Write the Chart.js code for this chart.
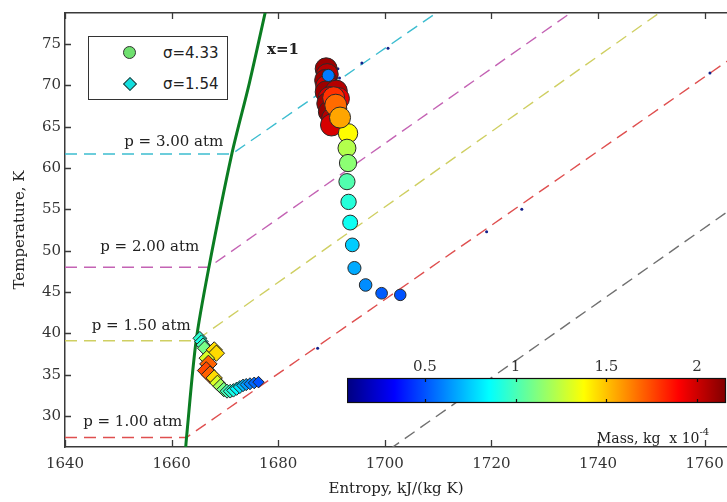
<!DOCTYPE html>
<html>
<head>
<meta charset="utf-8">
<title>Entropy vs temperature</title>
<script src="https://cdn.jsdelivr.net/npm/chart.js@4.4.1/dist/chart.umd.min.js"></script>
<style>
  body { margin: 0; background: #fff; }
  #wrap { position: relative; width: 727px; height: 502px; overflow: hidden; background: #fff; }
  #mainChart { position: absolute; left: 0; top: 0; }
  #massBar { position: absolute; left: 347px; top: 355px; }
  #legend {
    position: absolute; left: 88px; top: 36px; width: 140px; height: 64px;
    box-sizing: border-box; border: 1.5px solid #333; background: #fff;
    font: 15px "DejaVu Sans", sans-serif; color: #222;
  }
  #legend .mark { position: absolute; box-sizing: border-box; border: 1px solid #333; }
  #legend .dot { left: 34px; top: 9px; width: 13px; height: 13px; border-radius: 50%; background: #6fe06f; }
  #legend .diamond { left: 36px; top: 42px; width: 10px; height: 10px; transform: rotate(45deg); background: #10dede; }
  #legend .txt { position: absolute; left: 74px; line-height: 18px; }
  #massLabel {
    position: absolute; left: 597px; top: 425px; white-space: nowrap;
    font: 14px "DejaVu Serif", serif; color: #222; line-height: 18px;
  }
  #massLabel sup { font-size: 10px; position: relative; top: -2px; }
</style>
</head>
<body>
<div id="wrap">
  <canvas id="mainChart" width="727" height="502"></canvas>
  <div id="legend">
    <span class="mark dot"></span><span class="txt" style="top:7px">σ=4.33</span>
    <span class="mark diamond"></span><span class="txt" style="top:38px">σ=1.54</span>
  </div>
  <canvas id="massBar" width="380" height="49"></canvas>
  <div id="massLabel">Mass, kg &nbsp;x 10<sup>-4</sup></div>
</div>
<script>
// axis ranges
const X_RANGE = [1640, 1764.2];
const Y_RANGE = [26.25, 78.75];
const MASS_RANGE = [0.07, 2.16];
const X_STEP = 20;
const Y_STEP = 5;
const MASS_STEP = 0.5;

// saturation line x=1
const satEntropy = [1662.5, 1662.8, 1664.6, 1667.0, 1671.3, 1674.6, 1677.8];
const satTemp = [25.0, 27.4, 39.1, 48.0, 61.7, 70.3, 79.5];

// isobars: flat at the boiling temperature, then the superheated branch
const isobarNames = ["p = 3.00 atm", "p = 2.00 atm", "p = 1.50 atm", "p = 1.00 atm"];
const isobarTemp = [61.7, 48.0, 39.1, 27.4];
const isobarSatEntropy = [1671.3, 1667.0, 1664.5, 1662.8];
const isobarEndEntropy = [1712, 1770, 1770, 1770];
const isobarEndTemp = [79.8, 94.7, 87.2, 75.5];

// the lowest isobar, only its sloped part is in view
const lowIsobarEntropy = [1695, 1770];
const lowIsobarTemp = [23.3, 57.3];

// sigma = 4.33 drops (circles)
const bigEntropy = [
  1689.0, 1689.2, 1688.9, 1689.1, 1689.0, 1690.9, 1689.6, 1691.3, 1689.3, 1690.8, 1689.6, 1690.2, 1691.2, 1690.0,
  1690.4, 1690.8, 1693.1, 1691.6,
  1692.9, 1693.1, 1692.9, 1693.2, 1693.5, 1693.9, 1694.3, 1696.4, 1699.4, 1702.9,
  1689.4
];
const bigTemp = [
  72.0, 71.3, 70.6, 69.9, 69.2, 69.3, 68.5, 68.4, 67.8, 67.2, 66.8, 66.0, 65.5, 65.2,
  68.5, 67.6, 64.2, 66.1,
  62.4, 60.6, 58.35, 55.9, 53.4, 50.7, 47.9, 45.85, 44.85, 44.65,
  71.2
];
const bigMass = [
  2.1, 2.05, 2.1, 2.0, 2.1, 2.05, 2.0, 1.95, 2.1, 2.0, 2.12, 2.05, 2.1, 1.98,
  1.8, 1.68, 1.38, 1.56,
  1.22, 1.14, 1.02, 0.93, 0.88, 0.75, 0.68, 0.62, 0.52, 0.5,
  0.58
];

// sigma = 1.54 drops (diamonds)
const smallEntropy = [
  1665.3, 1665.6, 1665.9, 1666.2, 1668.0, 1668.4, 1666.6, 1666.9, 1666.5, 1667.2, 1668.0, 1668.6,
  1669.2, 1669.8, 1670.4, 1671.0, 1671.6, 1672.2, 1672.8, 1673.4, 1674.0, 1674.7, 1675.5, 1676.3
];
const smallTemp = [
  39.4, 39.0, 38.6, 38.2, 38.0, 37.6, 37.0, 36.3, 35.5, 35.0, 34.6, 34.0,
  33.6, 33.2, 33.0, 33.0, 33.1, 33.3, 33.5, 33.7, 33.8, 33.9, 34.0, 34.1
];
const smallMass = [
  0.95, 0.9, 1.0, 1.1, 1.45, 1.45, 1.3, 1.7, 1.75, 1.7, 1.45, 1.3,
  1.2, 1.1, 1.0, 0.95, 0.9, 0.85, 0.8, 0.72, 0.65, 0.6, 0.55, 0.5
];

// stray tiny trace points
const speckEntropy = [1695.7, 1700.6, 1687.4, 1719.1, 1725.7, 1761.0, 1691.2, 1691.5];
const speckTemp = [72.7, 74.5, 38.2, 52.3, 55.0, 71.5, 72.0, 70.9];

const ISOBAR_COLORS = ["#3dbdd0", "#c463b4", "#cfcf62", "#df4f4f"];
const AXIS_COLOR = "#3a3a3a";
const SERIF = "'DejaVu Serif', serif";

const textLabels = [
  { text: isobarNames[0], x: 1660.4, y: 63.15 },
  { text: isobarNames[1], x: 1655.9, y: 50.45 },
  { text: isobarNames[2], x: 1654.3, y: 40.9 },
  { text: isobarNames[3], x: 1652.7, y: 29.3 },
  { text: "x=1", x: 1680.9, y: 74.3, bold: true }
];

function jet(t) {
  const clamp = v => Math.max(0, Math.min(1, v));
  const r = clamp(1.5 - Math.abs(4 * t - 3));
  const g = clamp(1.5 - Math.abs(4 * t - 2));
  const b = clamp(1.5 - Math.abs(4 * t - 1));
  return `rgb(${Math.round(r * 255)}, ${Math.round(g * 255)}, ${Math.round(b * 255)})`;
}

function massColor(mass) {
  return jet((mass - MASS_RANGE[0]) / (MASS_RANGE[1] - MASS_RANGE[0]));
}

function toPoints(xs, ys) {
  return xs.map((x, i) => ({ x, y: ys[i] }));
}

// keep the plot area flush with the canvas edges
function noEdgePadding(scale) {
  scale.paddingLeft = 0;
  scale.paddingRight = 0;
}

function isobarDataset(index) {
  return {
    label: isobarNames[index],
    data: [
      { x: X_RANGE[0], y: isobarTemp[index] },
      { x: isobarSatEntropy[index], y: isobarTemp[index] },
      { x: isobarEndEntropy[index], y: isobarEndTemp[index] }
    ],
    showLine: true,
    borderColor: ISOBAR_COLORS[index],
    borderWidth: 1.4,
    borderDash: [12, 7],
    pointRadius: 0,
    order: 5
  };
}

const innerTicks = {
  id: "innerTicks",
  afterDraw(chart) {
    const { ctx, chartArea: area, scales: { x, y } } = chart;
    ctx.save();
    ctx.strokeStyle = AXIS_COLOR;
    ctx.lineWidth = 1.3;
    ctx.beginPath();
    x.ticks.forEach(tick => {
      const px = Math.round(x.getPixelForValue(tick.value)) + 0.5;
      ctx.moveTo(px, area.bottom);
      ctx.lineTo(px, area.bottom - 7);
      ctx.moveTo(px, area.top);
      ctx.lineTo(px, area.top + 6);
    });
    y.ticks.forEach(tick => {
      const py = Math.round(y.getPixelForValue(tick.value)) + 0.5;
      ctx.moveTo(area.left, py);
      ctx.lineTo(area.left + 6, py);
    });
    ctx.stroke();
    ctx.restore();
  }
};

const chartText = {
  id: "chartText",
  afterDatasetsDraw(chart) {
    const { ctx, scales: { x, y } } = chart;
    ctx.save();
    ctx.fillStyle = "#222";
    ctx.textAlign = "center";
    ctx.textBaseline = "middle";
    textLabels.forEach(label => {
      ctx.font = `${label.bold ? "bold " : ""}15px ${SERIF}`;
      ctx.fillText(label.text, x.getPixelForValue(label.x), y.getPixelForValue(label.y));
    });
    ctx.restore();
  }
};

new Chart(document.getElementById("mainChart"), {
  type: "scatter",
  data: {
    datasets: [
      {
        label: "σ=4.33",
        data: toPoints(bigEntropy, bigTemp),
        pointStyle: "circle",
        pointRadius: bigMass.map(m => Math.min(11, 3.5 + 4.5 * m)),
        pointBackgroundColor: bigMass.map(massColor),
        pointBorderColor: "#2a2a2a",
        pointBorderWidth: 1,
        order: 1
      },
      {
        label: "σ=1.54",
        data: toPoints(smallEntropy, smallTemp),
        pointStyle: "rectRot",
        pointRadius: smallMass.map(m => 4.5 + 2.5 * m),
        pointBackgroundColor: smallMass.map(massColor),
        pointBorderColor: "#222",
        pointBorderWidth: 1,
        order: 2
      },
      {
        label: "traces",
        data: toPoints(speckEntropy, speckTemp),
        pointRadius: 1.5,
        pointBackgroundColor: "#12208a",
        pointBorderWidth: 0,
        order: 3
      },
      {
        label: "x=1",
        data: toPoints(satEntropy, satTemp),
        showLine: true,
        borderColor: "#0b7d22",
        borderWidth: 3,
        pointRadius: 0,
        tension: 0.3,
        order: 4
      },
      isobarDataset(0),
      isobarDataset(1),
      isobarDataset(2),
      isobarDataset(3),
      {
        label: "low isobar",
        data: toPoints(lowIsobarEntropy, lowIsobarTemp),
        showLine: true,
        borderColor: "#707070",
        borderWidth: 1.4,
        borderDash: [12, 7],
        pointRadius: 0,
        order: 6
      }
    ]
  },
  options: {
    responsive: false,
    animation: false,
    layout: { autoPadding: false, padding: { top: 13, right: 0, left: 0, bottom: 0 } },
    plugins: {
      legend: { display: false },
      tooltip: { enabled: false }
    },
    scales: {
      x: {
        type: "linear",
        position: "bottom",
        min: X_RANGE[0],
        max: X_RANGE[1],
        ticks: {
          stepSize: X_STEP,
          includeBounds: false,
          maxRotation: 0,
          padding: 8,
          color: "#333",
          font: { family: SERIF, size: 15 },
          callback: value => String(value)
        },
        grid: { display: true, drawOnChartArea: false, drawTicks: false },
        border: { display: true, color: AXIS_COLOR, width: 1.5 },
        title: {
          display: true,
          text: "Entropy, kJ/(kg K)",
          color: "#222",
          font: { family: SERIF, size: 15 },
          padding: { top: 0, bottom: 4 }
        },
        afterFit: scale => { scale.height = 55; noEdgePadding(scale); }
      },
      x2: {
        type: "linear",
        axis: "x",
        position: "top",
        min: X_RANGE[0],
        max: X_RANGE[1],
        ticks: { display: false },
        grid: { display: true, drawOnChartArea: false, drawTicks: false },
        border: { display: true, color: AXIS_COLOR, width: 1.5 },
        afterFit: scale => { scale.height = 0; noEdgePadding(scale); }
      },
      y: {
        type: "linear",
        min: Y_RANGE[0],
        max: Y_RANGE[1],
        ticks: {
          stepSize: Y_STEP,
          includeBounds: false,
          padding: 4,
          color: "#333",
          font: { family: SERIF, size: 15 },
          callback: value => String(value)
        },
        grid: { display: true, drawOnChartArea: false, drawTicks: false },
        border: { display: true, color: AXIS_COLOR, width: 1.5 },
        title: {
          display: true,
          text: "Temperature, K",
          color: "#222",
          font: { family: SERIF, size: 15 },
          padding: { top: 11, bottom: 0 }
        },
        afterFit: scale => { scale.width = 65; }
      }
    }
  },
  plugins: [innerTicks, chartText]
});

const massBarPaint = {
  id: "massBarPaint",
  beforeDraw(chart) {
    const { ctx, chartArea: area, scales: { x } } = chart;
    const gradient = ctx.createLinearGradient(area.left, 0, area.right, 0);
    const stops = 40;
    for (let i = 0; i <= stops; i++) {
      gradient.addColorStop(i / stops, massColor(x.getValueForPixel(area.left + area.width * i / stops)));
    }
    ctx.save();
    ctx.fillStyle = gradient;
    ctx.fillRect(area.left, area.top, area.width, area.height);
    ctx.strokeStyle = "#111";
    ctx.lineWidth = 1.2;
    ctx.strokeRect(area.left + 0.5, area.top + 0.5, area.width - 1, area.height - 1);
    ctx.beginPath();
    x.ticks.forEach(tick => {
      const px = Math.round(x.getPixelForValue(tick.value)) + 0.5;
      ctx.moveTo(px, area.top);
      ctx.lineTo(px, area.top + 4);
      ctx.moveTo(px, area.bottom);
      ctx.lineTo(px, area.bottom - 4);
    });
    ctx.stroke();
    ctx.restore();
  }
};

new Chart(document.getElementById("massBar"), {
  type: "scatter",
  data: { datasets: [] },
  options: {
    responsive: false,
    animation: false,
    layout: { autoPadding: false, padding: { left: 0, right: 1, top: 0, bottom: 1 } },
    plugins: {
      legend: { display: false },
      tooltip: { enabled: false }
    },
    scales: {
      x: {
        type: "linear",
        position: "top",
        min: MASS_RANGE[0],
        max: MASS_RANGE[1],
        ticks: {
          stepSize: MASS_STEP,
          includeBounds: false,
          maxRotation: 0,
          padding: 2,
          color: "#333",
          font: { family: SERIF, size: 15 },
          callback: value => String(value)
        },
        grid: { display: false, drawTicks: false },
        border: { display: false },
        afterFit: scale => { scale.height = 23; noEdgePadding(scale); }
      },
      y: { display: false, min: 0, max: 1 }
    }
  },
  plugins: [massBarPaint]
});
</script>
</body>
</html>
